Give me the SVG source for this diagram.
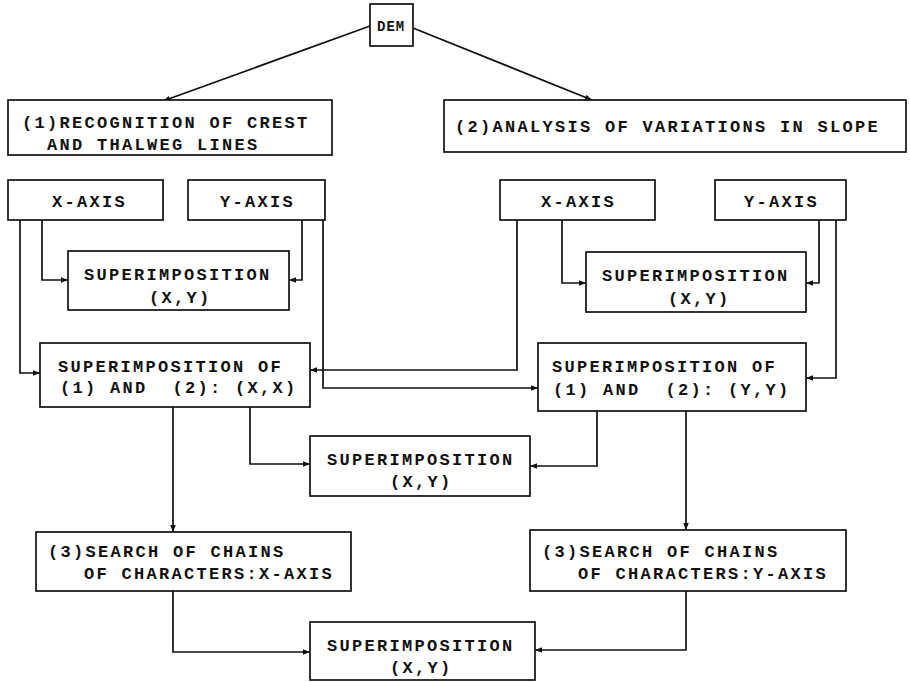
<svg xmlns="http://www.w3.org/2000/svg" width="910" height="682" viewBox="0 0 910 682">
<defs>
<style>
.b{fill:#fff;stroke:#111;stroke-width:1.7}
text{font-family:"Liberation Mono","Courier New",monospace;font-weight:bold;font-size:17px;letter-spacing:2.3px;fill:#111}
.c{fill:none;stroke:#111;stroke-width:1.7}
</style>
<marker id="a" viewBox="0 0 10 10" refX="10" refY="5" markerWidth="8" markerHeight="7" markerUnits="userSpaceOnUse" orient="auto">
<path d="M0,1 L10,5 L0,9 Z" fill="#111"/>
</marker>
</defs>
<rect width="910" height="682" fill="#fff"/>
<g id="connectors">
<path class="c" marker-end="url(#a)" d="M370,26 L163,101"/>
<path class="c" marker-end="url(#a)" d="M413,28 L592,100"/>
<path class="c" marker-end="url(#a)" d="M20,220 V373 H40"/>
<path class="c" marker-end="url(#a)" d="M42,220 V280 H68"/>
<path class="c" marker-end="url(#a)" d="M302,220 V280 H289"/>
<path class="c" marker-end="url(#a)" d="M323,220 V388 H538"/>
<path class="c" marker-end="url(#a)" d="M517,220 V370 H310"/>
<path class="c" marker-end="url(#a)" d="M562,220 V283 H586"/>
<path class="c" marker-end="url(#a)" d="M819,220 V283 H806"/>
<path class="c" marker-end="url(#a)" d="M836,220 V378 H806"/>
<path class="c" marker-end="url(#a)" d="M173,407 V532"/>
<path class="c" marker-end="url(#a)" d="M250,407 V464 H310"/>
<path class="c" marker-end="url(#a)" d="M597,411 V466 H530"/>
<path class="c" marker-end="url(#a)" d="M686,411 V530"/>
<path class="c" marker-end="url(#a)" d="M173,591 V652 H310"/>
<path class="c" marker-end="url(#a)" d="M686,591 V650 H535"/>
</g>
<g id="dem"><rect class="b" x="370" y="4" width="43" height="42"/><text x="377" y="31" style="font-size:14px;letter-spacing:1px">DEM</text></g>
<g id="crest"><rect class="b" x="8" y="100" width="324" height="55"/><text x="22" y="128">(1)RECOGNITION OF CREST</text><text x="47" y="150">AND THALWEG LINES</text></g>
<g id="slope"><rect class="b" x="444" y="100" width="462" height="52"/><text x="455" y="132">(2)ANALYSIS OF VARIATIONS IN SLOPE</text></g>
<g id="lx"><rect class="b" x="8" y="180" width="155" height="40"/><text x="52" y="207">X-AXIS</text></g>
<g id="ly"><rect class="b" x="188" y="180" width="137" height="40"/><text x="220" y="207">Y-AXIS</text></g>
<g id="rx"><rect class="b" x="500" y="180" width="155" height="40"/><text x="541" y="207">X-AXIS</text></g>
<g id="ry"><rect class="b" x="715" y="180" width="131" height="40"/><text x="744" y="207">Y-AXIS</text></g>
<g id="ls"><rect class="b" x="68" y="251" width="221" height="59"/><text x="84" y="280">SUPERIMPOSITION</text><text x="149" y="303">(X,Y)</text></g>
<g id="rs"><rect class="b" x="586" y="252" width="220" height="60"/><text x="602" y="281">SUPERIMPOSITION</text><text x="668" y="304">(X,Y)</text></g>
<g id="lb"><rect class="b" x="40" y="343" width="270" height="64"/><text x="58" y="372">SUPERIMPOSITION OF</text><text x="60" y="393" xml:space="preserve">(1) AND  (2): (X,X)</text></g>
<g id="rb"><rect class="b" x="538" y="343" width="268" height="68"/><text x="552" y="372">SUPERIMPOSITION OF</text><text x="553" y="395" xml:space="preserve">(1) AND  (2): (Y,Y)</text></g>
<g id="ms"><rect class="b" x="310" y="436" width="220" height="60"/><text x="327" y="465">SUPERIMPOSITION</text><text x="390" y="487">(X,Y)</text></g>
<g id="l3"><rect class="b" x="36" y="532" width="315" height="59"/><text x="48" y="557">(3)SEARCH OF CHAINS</text><text x="84" y="579">OF CHARACTERS:X-AXIS</text></g>
<g id="r3"><rect class="b" x="530" y="530" width="316" height="61"/><text x="542" y="557">(3)SEARCH OF CHAINS</text><text x="578" y="579">OF CHARACTERS:Y-AXIS</text></g>
<g id="bs"><rect class="b" x="310" y="622" width="225" height="58"/><text x="327" y="651">SUPERIMPOSITION</text><text x="390" y="673">(X,Y)</text></g>
</svg>
